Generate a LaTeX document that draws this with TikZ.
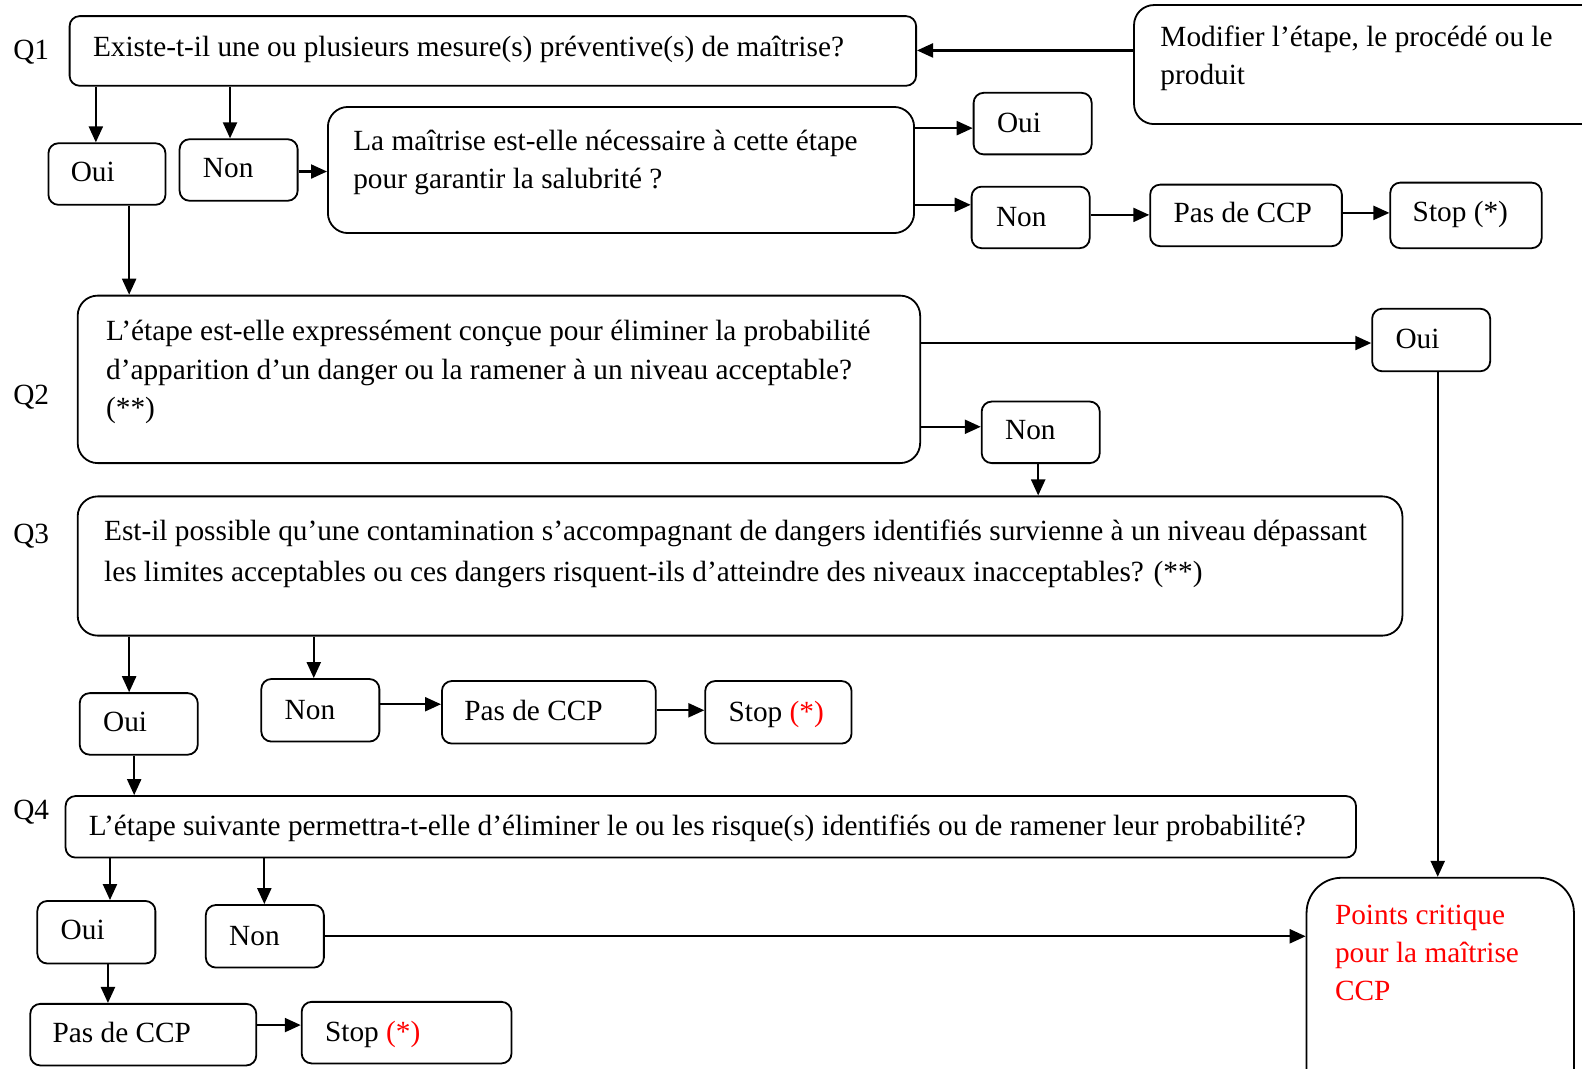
\documentclass[tikz,border=0pt]{standalone}
\usepackage{fontspec}
\setmainfont{Liberation Serif}
\usetikzlibrary{arrows.meta,fit}
\definecolor{ccpred}{RGB}{255,0,0}
\tikzset{
  bx/.style={draw, line width=1.8pt, rounded corners=10pt, inner sep=0pt},
  bigbx/.style={bx, rounded corners=20pt},
  txt/.style={inner sep=0pt, anchor=base west, font=\fontsize{29.3}{38}\selectfont},
  arr/.style={line width=2.2pt, -{Triangle[length=16pt,width=14pt]}},
}
\begin{document}
\begin{tikzpicture}[x={(1.009pt,0)}, y={(0,-1.009pt)}]
\useasboundingbox (0,0) rectangle (1568,1059);
\clip (0,0) rectangle (1568,1059);

% ---------- Q1 ----------
\node[txt] (lq1) at (13,59) {Q1};
\node[bx, fit={(69,16) (908,85)}] (q1) {};
\node[txt] (tq1) at (92,56) {Existe-t-il une ou plusieurs mesure(s) préventive(s) de maîtrise?};

\node[bigbx, fit={(1124,5) (1600,123)}] (mod) {};
\node[txt] (tmoda) at (1150,46) {Modifier l’étape, le procédé ou le};
\node[txt] (tmodb) at (1150,84) {produit};

\node[bx, fit={(48,142) (164,203)}] (oui1) {};
\node[txt] (toui1) at (70,180) {Oui};
\node[bx, fit={(178,138) (295,199)}] (non1) {};
\node[txt] (tnon1) at (201,176) {Non};

\node[bigbx, fit={(325,106) (906,231)}] (q1b) {};
\node[txt] (tq1ba) at (350,149) {La maîtrise est-elle nécessaire à cette étape};
\node[txt] (tq1bb) at (350,187) {pour garantir la salubrité ?};

\node[bx, fit={(965,92) (1082,153)}] (oui2) {};
\node[txt] (toui2) at (988,131) {Oui};
\node[bx, fit={(963,185) (1080,246)}] (non2) {};
\node[txt] (tnon2) at (987,224) {Non};
\node[bx, fit={(1140,183) (1330,244)}] (pas1) {};
\node[txt] (tpas1) at (1163,221) {Pas de CCP};
\node[bx, fit={(1378,181) (1528,246)}] (stop1) {};
\node[txt] (tstop1) at (1400,220) {Stop (*)};

% ---------- Q2 ----------
\node[txt] (lq2) at (13,401) {Q2};
\node[bigbx, fit={(77,293) (912,459)}] (q2) {};
\node[txt] (tq2a) at (105,337) {L’étape est-elle expressément conçue pour éliminer la probabilité};
\node[txt] (tq2b) at (105,376) {d’apparition d’un danger ou la ramener à un niveau acceptable?};
\node[txt] (tq2c) at (105,414) {(**)};

\node[bx, fit={(1360,306) (1477,368)}] (oui3) {};
\node[txt] (toui3) at (1383,345) {Oui};
\node[bx, fit={(973,398) (1090,459)}] (non3) {};
\node[txt] (tnon3) at (996,436) {Non};

% ---------- Q3 ----------
\node[txt] (lq3) at (13,539) {Q3};
\node[bigbx, fit={(77,492) (1390,630)}] (q3) {};
\node[txt] (tq3a) at (103,536) {Est-il possible qu’une contamination s’accompagnant de dangers identifiés survienne à un niveau dépassant};
\node[txt] (tq3b) at (103,576) {les limites acceptables ou ces dangers risquent-ils d’atteindre des niveaux inacceptables? (**)};

\node[bx, fit={(79,687) (196,748)}] (oui4) {};
\node[txt] (toui4) at (102,725) {Oui};
\node[bx, fit={(259,673) (376,735)}] (non4) {};
\node[txt] (tnon4) at (282,713) {Non};
\node[bx, fit={(438,675) (650,737)}] (pas2) {};
\node[txt] (tpas2) at (460,714) {Pas de CCP};
\node[bx, fit={(699,675) (844,737)}] (stop2) {};
\node[txt] (tstop2) at (722,715) {Stop \textcolor{ccpred}{(*)}};

% ---------- Q4 ----------
\node[txt] (lq4) at (13,812) {Q4};
\node[bx, fit={(65,789) (1344,850)}] (q4) {};
\node[txt] (tq4) at (88,828) {L’étape suivante permettra-t-elle d’éliminer le ou les risque(s) identifiés ou de ramener leur probabilité?};

\node[bx, fit={(37,893) (154,955)}] (oui5) {};
\node[txt] (toui5) at (60,931) {Oui};
\node[bx, fit={(204,897) (321,959)}] (non5) {};
\node[txt] (tnon5) at (227,937) {Non};
\node[bx, fit={(30,995) (254,1056)}] (pas3) {};
\node[txt] (tpas3) at (52,1033) {Pas de CCP};
\node[bx, fit={(299,993) (507,1054)}] (stop3) {};
\node[txt] (tstop3) at (322,1032) {Stop \textcolor{ccpred}{(*)}};

% ---------- critical control point ----------
\node[bx, rounded corners=35pt, fit={(1295,870) (1560,1100)}] (ccp) {};
\node[txt, text=ccpred] (tccpa) at (1323,916) {Points critique};
\node[txt, text=ccpred] (tccpb) at (1323,954) {pour la maîtrise};
\node[txt, text=ccpred] (tccpc) at (1323,992) {CCP};

% ---------- connectors ----------
\draw[arr] (mod.west |- 0,50) -- (q1.east |- 0,50);
\draw[arr] (q1.south -| 95,0) -- (oui1.north -| 95,0);
\draw[arr] (q1.south -| 228,0) -- (non1.north -| 228,0);
\draw[arr] (non1.east |- 0,170) -- (q1b.west |- 0,170);
\draw[arr] (q1b.east |- 0,127) -- (oui2.west |- 0,127);
\draw[arr] (q1b.east |- 0,203) -- (non2.west |- 0,203);
\draw[arr] (non2.east |- 0,213) -- (pas1.west |- 0,213);
\draw[arr] (pas1.east |- 0,211) -- (stop1.west |- 0,211);
\draw[arr] (oui1.south -| 128,0) -- (q2.north -| 128,0);
\draw[arr] (q2.east |- 0,340) -- (oui3.west |- 0,340);
\draw[arr] (q2.east |- 0,423) -- (non3.west |- 0,423);
\draw[arr] (non3.south -| 1029,0) -- (q3.north -| 1029,0);
\draw[arr] (oui3.south -| 1425,0) -- (ccp.north -| 1425,0);
\draw[arr] (q3.south -| 128,0) -- (oui4.north -| 128,0);
\draw[arr] (q3.south -| 311,0) -- (non4.north -| 311,0);
\draw[arr] (non4.east |- 0,698) -- (pas2.west |- 0,698);
\draw[arr] (pas2.east |- 0,704) -- (stop2.west |- 0,704);
\draw[arr] (oui4.south -| 133,0) -- (q4.north -| 133,0);
\draw[arr] (q4.south -| 109,0) -- (oui5.north -| 109,0);
\draw[arr] (q4.south -| 262,0) -- (non5.north -| 262,0);
\draw[arr] (non5.east |- 0,928) -- (ccp.west |- 0,928);
\draw[arr] (oui5.south -| 107,0) -- (pas3.north -| 107,0);
\draw[arr] (pas3.east |- 0,1016) -- (stop3.west |- 0,1016);
\end{tikzpicture}
\end{document}
